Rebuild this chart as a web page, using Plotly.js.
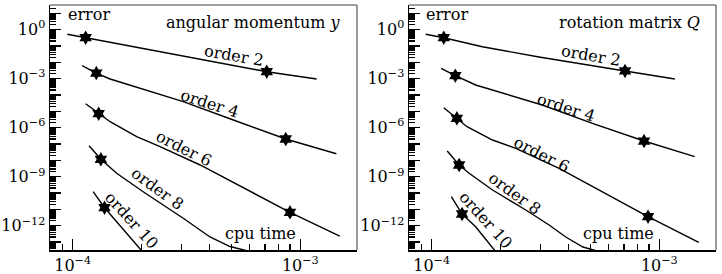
<!DOCTYPE html>
<html>
<head>
<meta charset="utf-8">
<script src="https://cdn.plot.ly/plotly-3.0.1.min.js"></script>
<style>html,body{margin:0;padding:0;background:#fff;}#chart{width:722px;height:274px;}</style>
</head>
<body>
<div id="chart"></div>
<script>
// ---- data: left panel "angular momentum y" ----
const ang_o2_t  = [9.47e-5, 1.14e-4, 1.39e-4, 2.96e-4, 7.12e-4, 1.18e-3];
const ang_o2_e  = [0.51, 0.315, 0.172, 0.0239, 2.62e-3, 9.38e-4];
const ang_o4_t  = [1.10e-4, 1.27e-4, 1.46e-4, 2.19e-4, 3.06e-4, 5.08e-4, 8.63e-4, 1.44e-3];
const ang_o4_e  = [6.11e-3, 2.18e-3, 9.38e-4, 1.57e-4, 3.84e-5, 2.92e-6, 2.01e-7, 2.53e-8];
const ang_o6_t  = [1.14e-4, 1.30e-4, 1.46e-4, 1.91e-4, 2.42e-4, 3.63e-4, 7.12e-4, 9.01e-4, 1.49e-3];
const ang_o6_e  = [2.90e-5, 7.08e-6, 2.30e-6, 2.77e-7, 6.79e-8, 5.16e-9, 3.73e-11, 6.6e-12, 2.34e-13];
const ang_o8_t  = [1.18e-4, 1.33e-4, 1.56e-4, 2.04e-4, 3.06e-4, 4.01e-4, 4.91e-4, 6.01e-4];
const ang_o8_e  = [7.82e-8, 1.15e-8, 1.60e-9, 1.20e-10, 2.84e-12, 2.04e-13, 5.34e-14, 2.64e-14];
const ang_o10_t = [1.23e-4, 1.38e-4, 1.56e-4, 2.08e-4];
const ang_o10_e = [1.20e-10, 1.26e-11, 1.76e-12, 1.68e-14];
const ang_star_t = [1.14e-4, 7.12e-4, 1.27e-4, 8.63e-4, 1.30e-4, 9.01e-4, 1.33e-4, 1.38e-4];
const ang_star_e = [0.315, 2.62e-3, 2.18e-3, 2.01e-7, 7.08e-6, 6.6e-12, 1.15e-8, 1.26e-11];

// ---- data: right panel "rotation matrix Q" ----
const rot_o2_t  = [9.41e-5, 1.13e-4, 1.67e-4, 2.96e-4, 7.07e-4, 1.17e-3];
const rot_o2_e  = [0.508, 0.315, 0.0887, 0.0208, 2.90e-3, 9.38e-4];
const rot_o4_t  = [1.10e-4, 1.27e-4, 1.56e-4, 2.19e-4, 3.06e-4, 5.08e-4, 8.57e-4, 1.43e-3];
const rot_o4_e  = [4.24e-3, 1.49e-3, 4.03e-4, 9.86e-5, 2.41e-5, 1.83e-6, 1.51e-7, 1.66e-8];
const rot_o6_t  = [1.13e-4, 1.29e-4, 1.43e-4, 1.85e-4, 2.34e-4, 3.63e-4, 6.01e-4, 8.92e-4, 1.49e-3];
const rot_o6_e  = [1.65e-5, 3.71e-6, 1.14e-6, 1.74e-7, 5.42e-8, 3.24e-9, 7.55e-11, 3.55e-12, 9.66e-14];
const rot_o8_t  = [1.17e-4, 1.32e-4, 1.46e-4, 1.85e-4, 2.59e-4, 3.28e-4, 3.88e-4, 4.62e-4, 5.43e-4];
const rot_o8_e  = [3.71e-8, 5.16e-9, 1.60e-9, 1.52e-10, 9.12e-12, 1.10e-12, 2.04e-13, 4.98e-14, 2.64e-14];
const rot_o10_t = [1.22e-4, 1.36e-4, 1.56e-4, 1.98e-4];
const rot_o10_e = [5.94e-11, 5.2e-12, 8.69e-13, 1.40e-14];
const rot_star_t = [1.13e-4, 7.07e-4, 1.27e-4, 8.57e-4, 1.29e-4, 8.92e-4, 1.32e-4, 1.36e-4];
const rot_star_e = [0.315, 2.90e-3, 1.49e-3, 1.51e-7, 3.71e-6, 3.55e-12, 5.16e-9, 5.2e-12];

// ---- labels ----
const orderLabels = ['order 2', 'order 4', 'order 6', 'order 8', 'order 10'];
const panelTitles = ['angular momentum <i>y</i>', 'rotation matrix <i>Q</i>'];
const cornerLabel = 'error';
const axisLabel = 'cpu time';
const yLabelDecades = [0, -3, -6, -9, -12];
const yAllDecades = [1,0,-1,-2,-3,-4,-5,-6,-7,-8,-9,-10,-11,-12,-13];
const xDecades = [-4, -3];

const FONT = 'DejaVu Serif';
const W = 722, H = 274;

function lineTrace(x, y, xa, ya) {
  return {x, y, xaxis: xa, yaxis: ya, mode: 'lines', type: 'scatter',
          line: {color: '#000', width: 1.4}, hoverinfo: 'skip', showlegend: false};
}
function starTrace(x, y, xa, ya) {
  return {x, y, xaxis: xa, yaxis: ya, mode: 'markers', type: 'scatter',
          marker: {symbol: 'hexagram', size: 11, color: '#000', line: {width: 0}},
          hoverinfo: 'skip', showlegend: false};
}
function emptyTrace(xa, ya) {
  return {x: [], y: [], xaxis: xa, yaxis: ya, type: 'scatter', mode: 'lines', hoverinfo: 'skip', showlegend: false};
}

const data = [
  lineTrace(ang_o2_t, ang_o2_e, 'x', 'y'),
  lineTrace(ang_o4_t, ang_o4_e, 'x', 'y'),
  lineTrace(ang_o6_t, ang_o6_e, 'x', 'y'),
  lineTrace(ang_o8_t, ang_o8_e, 'x', 'y'),
  lineTrace(ang_o10_t, ang_o10_e, 'x', 'y'),
  starTrace(ang_star_t, ang_star_e, 'x', 'y'),
  lineTrace(rot_o2_t, rot_o2_e, 'x2', 'y2'),
  lineTrace(rot_o4_t, rot_o4_e, 'x2', 'y2'),
  lineTrace(rot_o6_t, rot_o6_e, 'x2', 'y2'),
  lineTrace(rot_o8_t, rot_o8_e, 'x2', 'y2'),
  lineTrace(rot_o10_t, rot_o10_e, 'x2', 'y2'),
  starTrace(rot_star_t, rot_star_e, 'x2', 'y2'),
  emptyTrace('x', 'y3'),
  emptyTrace('x2', 'y4')
];

const yTickVals = yLabelDecades.map(k => Math.pow(10, k));
const yTickText = yLabelDecades.map(k => '10<sup>' + (k < 0 ? '\u2212' : '') + Math.abs(k) + '</sup>');
const yAllVals = yAllDecades.map(k => Math.pow(10, k));
const yMinor = [];
for (let k = -14; k <= 1; k++) for (let m = 2; m <= 9; m++) yMinor.push(m * Math.pow(10, k));
const xTickVals = xDecades.map(k => Math.pow(10, k));
const xTickText = xDecades.map(k => '10<sup>\u2212' + Math.abs(k) + '</sup>');
const xMinor = [];
for (let k = -5; k <= -3; k++) for (let m = 2; m <= 9; m++) xMinor.push(m * Math.pow(10, k));

const YDOM = [1 - 250 / H, 1 - 5 / H];
const YRANGE = [-13.486, 1.4985];

function xAxis(dom, anchor) {
  return {type: 'log', domain: dom, anchor, range: [-4.0997, -2.751], showgrid: false, zeroline: false,
    showline: true, linecolor: '#000', linewidth: 1.5, ticks: 'inside', ticklen: 11, tickwidth: 1.3,
    tickcolor: '#000', tickmode: 'array', tickvals: xTickVals, ticktext: xTickText,
    tickfont: {family: FONT, size: 16, color: '#000'},
    minor: {tickmode: 'array', tickvals: xMinor, ticks: 'inside', ticklen: 6, tickwidth: 1.3, tickcolor: '#000', showgrid: false},
    fixedrange: true};
}
function yAxis(anchor) {
  return {type: 'log', domain: YDOM, range: YRANGE, anchor,
    showgrid: false, zeroline: false, showline: true, linecolor: '#000', linewidth: 1.5,
    ticks: 'inside', ticklen: 11, tickwidth: 1.3, tickcolor: '#000', tickmode: 'array',
    tickvals: yTickVals, ticktext: yTickText, tickfont: {family: FONT, size: 16, color: '#000'},
    minor: {tickmode: 'array', tickvals: yMinor, ticks: 'inside', ticklen: 6, tickwidth: 1.3, tickcolor: '#000', showgrid: false},
    fixedrange: true};
}
function yDecadeAxis(anchor, over) {
  return {type: 'log', domain: YDOM, range: YRANGE, anchor, overlaying: over, side: 'left',
    showgrid: false, zeroline: false, showline: false, showticklabels: false,
    ticks: 'inside', ticklen: 11, tickwidth: 1.3, tickcolor: '#000', tickmode: 'array',
    tickvals: yAllVals, fixedrange: true};
}

const panelsX = [[50, 357], [409, 716]];

function ann(text, px, py, opts) {
  return Object.assign({text, x: px / W, y: 1 - py / H, xref: 'paper', yref: 'paper',
    showarrow: false, font: {family: FONT, size: 16, color: '#000'}, xanchor: 'center', yanchor: 'middle'}, opts || {});
}

const annotations = [
  // left panel
  ann(cornerLabel, 66, 15, {xanchor: 'left'}),
  ann(panelTitles[0], 343, 22, {xanchor: 'right'}),
  ann(orderLabels[0], 234, 55.5, {textangle: 10}),
  ann(orderLabels[1], 210, 103, {textangle: 18}),
  ann(orderLabels[2], 184, 148.5, {textangle: 27}),
  ann(orderLabels[3], 157.5, 188, {textangle: 36}),
  ann(orderLabels[4], 132, 220, {textangle: 48}),
  ann(axisLabel, 260, 233),
  // right panel
  ann(cornerLabel, 424, 15, {xanchor: 'left'}),
  ann(panelTitles[1], 702, 22, {xanchor: 'right'}),
  ann(orderLabels[0], 591, 55.5, {textangle: 10}),
  ann(orderLabels[1], 566, 108, {textangle: 18}),
  ann(orderLabels[2], 542, 154, {textangle: 27}),
  ann(orderLabels[3], 515, 193, {textangle: 36}),
  ann(orderLabels[4], 486.5, 220, {textangle: 48}),
  ann(axisLabel, 618, 233)
];

const shapes = [];
panelsX.forEach(([l, r]) => {
  shapes.push({type: 'line', xref: 'paper', yref: 'paper', x0: l / W, x1: r / W, y0: 1 - 5 / H, y1: 1 - 5 / H, line: {color: '#808080', width: 1.6}});
  shapes.push({type: 'line', xref: 'paper', yref: 'paper', x0: r / W, x1: r / W, y0: 1 - 5 / H, y1: 1 - 250 / H, line: {color: '#808080', width: 1.6}});
});

const layout = {
  width: W, height: H, margin: {l: 0, r: 0, t: 0, b: 0}, paper_bgcolor: '#fff', plot_bgcolor: '#fff',
  showlegend: false,
  xaxis: xAxis([50 / W, 357 / W], 'y'),
  yaxis: yAxis('x'),
  xaxis2: xAxis([409 / W, 716 / W], 'y2'),
  yaxis2: yAxis('x2'),
  yaxis3: yDecadeAxis('x', 'y'),
  yaxis4: yDecadeAxis('x2', 'y2'),
  annotations, shapes,
  font: {family: FONT, size: 16, color: '#000'}
};

Plotly.newPlot('chart', data, layout, {displayModeBar: false, staticPlot: true});
</script>
</body>
</html>
